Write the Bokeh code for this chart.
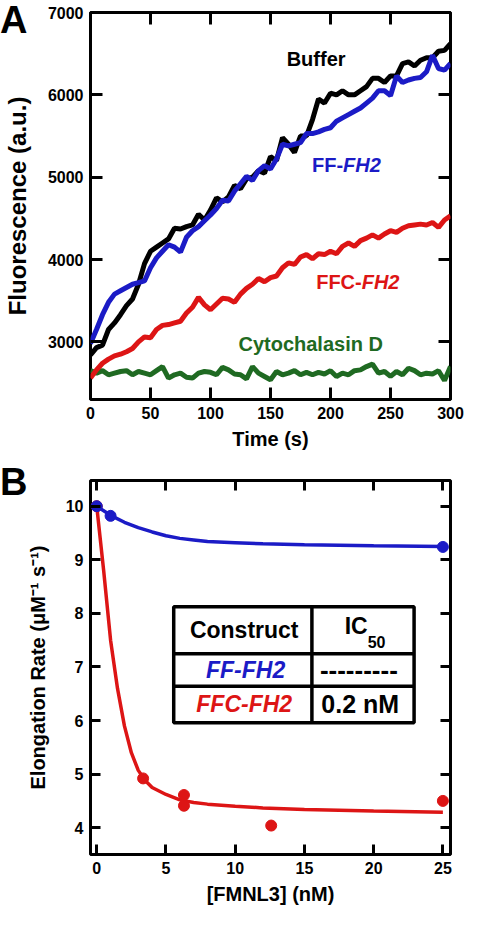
from bokeh.plotting import figure
from bokeh.models import Range1d, LinearAxis, FixedTicker, Label, Div
from bokeh.layouts import column
from bokeh.embed import file_html
from bokeh.resources import INLINE

# ---------------- Panel A data ----------------
time_s = list(range(0, 301, 5))
buffer_f = [2840, 2930, 2960, 3150, 3230, 3330, 3440, 3520, 3700, 3950,
            4100, 4150, 4200, 4250, 4380, 4370, 4400, 4420, 4550, 4480,
            4600, 4750, 4700, 4760, 4900, 4860, 4980, 5000, 5080, 5050,
            5250, 5200, 5480, 5400, 5300, 5500, 5500, 5700, 5950, 5900,
            6020, 6000, 6050, 6000, 6000, 6050, 6100, 6200, 6200, 6150,
            6230, 6230, 6380, 6400, 6350, 6420, 6450, 6450, 6530, 6540,
            6620]
ff_fh2_f = [2980, 3150, 3330, 3480, 3580, 3620, 3660, 3700, 3720, 3740,
            3900, 4020, 4100, 4180, 4150, 4090, 4270, 4350, 4400, 4470,
            4540, 4620, 4720, 4710, 4830, 4920, 5010, 4960, 5080, 5140,
            5100, 5220, 5400, 5380, 5400, 5420, 5530, 5530, 5550, 5580,
            5600, 5680, 5720, 5760, 5800, 5840, 5900, 5960, 6050, 6050,
            5990, 6230, 6150, 6180, 6200, 6210, 6280, 6480, 6320, 6300,
            6380]
ffc_fh2_f = [2560, 2660, 2740, 2790, 2830, 2850, 2880, 2920, 3000, 3060,
             3050, 3150, 3200, 3210, 3230, 3250, 3350, 3420, 3540, 3450,
             3390, 3460, 3530, 3520, 3480, 3580, 3650, 3700, 3770, 3730,
             3780, 3800, 3900, 3960, 3940, 4030, 4060, 4010, 4070, 4060,
             4100, 4070, 4160, 4200, 4160, 4230, 4260, 4300, 4260, 4310,
             4350, 4330, 4380, 4410, 4420, 4430, 4420, 4450, 4390, 4480,
             4530]
cytod_f = [2650, 2620, 2650, 2600, 2620, 2640, 2650, 2600, 2640, 2620,
           2600, 2650, 2700, 2560, 2600, 2620, 2570, 2560, 2620, 2640,
           2630, 2600, 2690, 2660, 2610, 2600, 2550, 2700, 2620, 2580,
           2540, 2640, 2600, 2620, 2650, 2600, 2630, 2600, 2630, 2610,
           2650, 2580, 2620, 2600, 2650, 2660, 2700, 2730, 2620, 2640,
           2580, 2640, 2600, 2680, 2650, 2600, 2620, 2610, 2650, 2530,
           2700]
a_xticks = [0, 50, 100, 150, 200, 250, 300]
a_yticks = [3000, 4000, 5000, 6000, 7000]

# ---------------- Panel B data ----------------
ff_conc = [0.0, 1.0, 25.0]
ff_rate = [10.0, 9.82, 9.24]
ff_fit_x = [0, 1, 2, 3, 4, 5, 6, 7, 8, 10, 12, 15, 20, 25]
ff_fit_y = [10.0, 9.83, 9.70, 9.60, 9.52, 9.45, 9.40, 9.37, 9.34, 9.32, 9.30, 9.28, 9.26, 9.25]
ffc_conc = [0.0, 3.35, 6.3, 6.3, 12.6, 25.0]
ffc_rate = [10.0, 4.92, 4.61, 4.41, 4.04, 4.50]
ffc_fit_x = [0, 0.5, 1.0, 1.5, 2.0, 2.5, 3.0, 3.5, 4, 5, 6, 7, 8, 10, 12, 15, 20, 25]
ffc_fit_y = [10.0, 8.8, 7.5, 6.6, 5.9, 5.4, 5.07, 4.88, 4.75, 4.62, 4.52, 4.47, 4.44, 4.40, 4.37, 4.34, 4.31, 4.29]
b_xticks = [0, 5, 10, 15, 20, 25]
b_yticks = [4, 5, 6, 7, 8, 9, 10]

FONT = "Liberation Sans"
BLACK = "#000000"
BLUE = "#1b1bc6"
RED = "#dd1515"
GREEN = "#1f6a22"


def setup(p, xticks, yticks, tick_len, xlabel, ylabel, xlab_size, ylab_size):
    p.outline_line_color = BLACK
    p.outline_line_width = 3
    p.border_fill_color = None
    p.xgrid.visible = False
    p.ygrid.visible = False
    p.xaxis.ticker = FixedTicker(ticks=xticks)
    p.yaxis.ticker = FixedTicker(ticks=yticks)
    p.xaxis.axis_label = xlabel
    p.yaxis.axis_label = ylabel
    p.xaxis.axis_label_text_font_size = xlab_size
    p.yaxis.axis_label_text_font_size = ylab_size
    for ax in [p.xaxis[0], p.yaxis[0]]:
        ax.axis_label_text_font = FONT
        ax.axis_label_text_font_style = "bold"
        ax.axis_label_text_color = BLACK
        ax.major_label_text_font = FONT
        ax.major_label_text_font_style = "bold"
        ax.major_label_text_font_size = "16px"
        ax.major_label_text_color = BLACK
    p.xaxis.axis_label_standoff = 6
    p.yaxis.axis_label_standoff = 14
    p.xaxis.major_label_standoff = 7
    p.yaxis.major_label_standoff = 7
    extra = [LinearAxis(ticker=FixedTicker(ticks=xticks)), LinearAxis(ticker=FixedTicker(ticks=yticks))]
    p.add_layout(extra[0], "above")
    p.add_layout(extra[1], "right")
    for ax in extra:
        ax.major_label_text_font_size = "1px"
        ax.major_label_text_color = None
        ax.major_label_standoff = 0
    for ax in p.axis:
        ax.axis_line_color = None
        ax.major_tick_in = tick_len
        ax.major_tick_out = 0
        ax.major_tick_line_width = 3
        ax.major_tick_line_color = BLACK
        ax.minor_tick_line_color = None


def lab(p, x, y, text, color, size, align="center", style="bold", baseline="middle", **kw):
    p.add_layout(Label(x=x, y=y, text=text, text_color=color, text_font=FONT,
                       text_font_size=size, text_font_style=style,
                       text_align=align, text_baseline=baseline, **kw))


def panel_letter(letter, top):
    # zero-height (via negative bottom margin) block that overlaps the next figure
    return Div(text=letter, width=40, height=40, margin=(top, 0, -40 - top, 0),
               styles={"font-family": FONT, "font-weight": "bold", "font-size": "38px",
                       "line-height": "40px", "color": "black",
                       "position": "relative", "z-index": "10"})


# ---------------- Panel A ----------------
pa = figure(width=464, height=452, output_backend="svg", toolbar_location=None,
            x_range=Range1d(0, 300), y_range=Range1d(2300, 7000),
            min_border_left=80, min_border_right=14, min_border_top=12, min_border_bottom=50)
setup(pa, a_xticks, a_yticks, 12, "Time (s)", "Fluorescence (a.u.)", "20px", "24px")

pa.line(time_s, cytod_f, color=GREEN, line_width=5)
pa.line(time_s, ffc_fh2_f, color=RED, line_width=5)
pa.line(time_s, buffer_f, color=BLACK, line_width=5)
pa.line(time_s, ff_fh2_f, color=BLUE, line_width=5)

lab(pa, 188, 6430, "Buffer", BLACK, "20px")
lab(pa, 210.5, 5143, "FF-", BLUE, "20px", align="right")
lab(pa, 210.5, 5143, "FH2", BLUE, "20px", align="left", style="bold italic")
lab(pa, 226, 3727, "FFC-", RED, "20px", align="right")
lab(pa, 226, 3727, "FH2", RED, "20px", align="left", style="bold italic")
lab(pa, 183.5, 2980, "Cytochalasin D", GREEN, "20px")

# ---------------- Panel B ----------------
pb = figure(width=464, height=462, output_backend="svg", toolbar_location=None,
            x_range=Range1d(-0.45, 25.55), y_range=Range1d(3.5, 10.48),
            min_border_left=80, min_border_right=14, min_border_top=28, min_border_bottom=60)
setup(pb, b_xticks, b_yticks, 10, "[FMNL3] (nM)", "Elongation Rate (\u03bcM\u207b\u00b9 s\u207b\u00b9)", "20px", "20px")

pb.line(ffc_fit_x, ffc_fit_y, color=RED, line_width=3.5)
pb.scatter(ffc_conc, ffc_rate, size=11, color=RED)
pb.line(ff_fit_x, ff_fit_y, color=BLUE, line_width=3.5)
pb.scatter(ff_conc, ff_rate, size=11, color=BLUE)

# inset table (data-space box)
tx0, tx1, tx2 = 5.56, 15.54, 22.92
ty0, ty1, ty2, ty3 = 8.125, 7.245, 6.64, 5.96
pb.quad(left=tx0, right=tx2, top=ty0, bottom=ty3, fill_color="white", line_color=BLACK, line_width=3.5)
pb.segment(x0=[tx1, tx0, tx0], y0=[ty0, ty1, ty2], x1=[tx1, tx2, tx2], y1=[ty3, ty1, ty2],
           line_color=BLACK, line_width=3.5)
c1 = (tx0 + tx1) / 2
c2 = (tx1 + tx2) / 2
lab(pb, c1 + 0.1, (ty0 + ty1) / 2, "Construct", BLACK, "23px")
lab(pb, 19.57, 7.76, "IC", BLACK, "23px", align="right")
lab(pb, 19.57, 7.47, "50", BLACK, "16px", align="left")
lab(pb, c1 + 0.2, (ty1 + ty2) / 2, "FF-FH2", BLUE, "23px", style="bold italic")
lab(pb, c2 - 0.3, (ty1 + ty2) / 2, "---------", BLACK, "26px")
lab(pb, c1 + 0.1, (ty2 + ty3) / 2, "FFC-FH2", RED, "23px", style="bold italic")
lab(pb, c2 - 0.2, (ty2 + ty3) / 2, "0.2 nM", BLACK, "25px")

layout = column(panel_letter("A", 0), pa, panel_letter("B", 10), pb, spacing=0)
open("out.html", "w").write(file_html(layout, INLINE))
